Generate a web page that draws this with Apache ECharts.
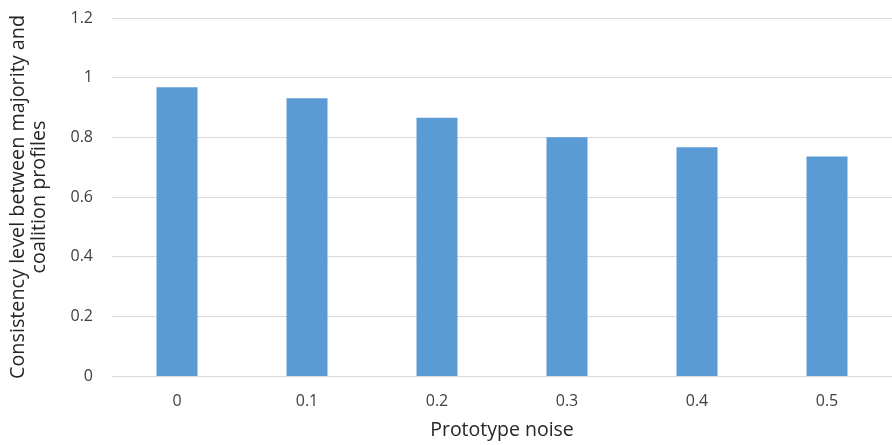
<!DOCTYPE html>
<html>
<head>
<meta charset="utf-8">
<script src="https://cdn.jsdelivr.net/npm/echarts@6/dist/echarts.min.js"></script>
<style>html,body{margin:0;padding:0;background:#fff;}#c{width:892px;height:445px;}</style>
</head>
<body>
<div id="c"></div>
<script>
const categories = ['0', '0.1', '0.2', '0.3', '0.4', '0.5'];
const consistency = [0.968, 0.931, 0.866, 0.800, 0.767, 0.736];
const yTitle = 'Consistency level between majority and\ncoalition profiles';
const xTitle = 'Prototype noise';

const chart = echarts.init(document.getElementById('c'));
const font = '"Open Sans", "Noto Sans", sans-serif';
chart.setOption({
  animation: false,
  grid: { left: 112, right: 0, top: 18, bottom: 68 },
  xAxis: {
    type: 'category',
    data: categories,
    name: xTitle,
    nameLocation: 'middle',
    nameGap: 44,
    nameTextStyle: { fontFamily: font, fontSize: 19.5, color: '#262626' },
    axisLine: { lineStyle: { color: '#d9d9d9', width: 1 } },
    axisTick: { show: false },
    axisLabel: { fontFamily: font, fontSize: 16, color: '#404040', margin: 17 }
  },
  yAxis: {
    type: 'value',
    min: 0, max: 1.2, interval: 0.2,
    name: yTitle,
    nameLocation: 'middle',
    nameRotate: 90,
    nameGap: 62,
    nameTextStyle: { fontFamily: font, fontSize: 19.8, color: '#262626', lineHeight: 21, align: 'center' },
    axisLine: { show: false },
    axisTick: { show: false },
    splitLine: { lineStyle: { color: '#d9d9d9', width: 1 } },
    axisLabel: { fontFamily: font, fontSize: 16, color: '#404040', margin: 19,
      formatter: v => String(Math.round(v * 10) / 10) }
  },
  series: [{
    type: 'bar',
    data: consistency,
    barWidth: 41,
    itemStyle: { color: '#5b9bd5' }
  }]
});
</script>
</body>
</html>
